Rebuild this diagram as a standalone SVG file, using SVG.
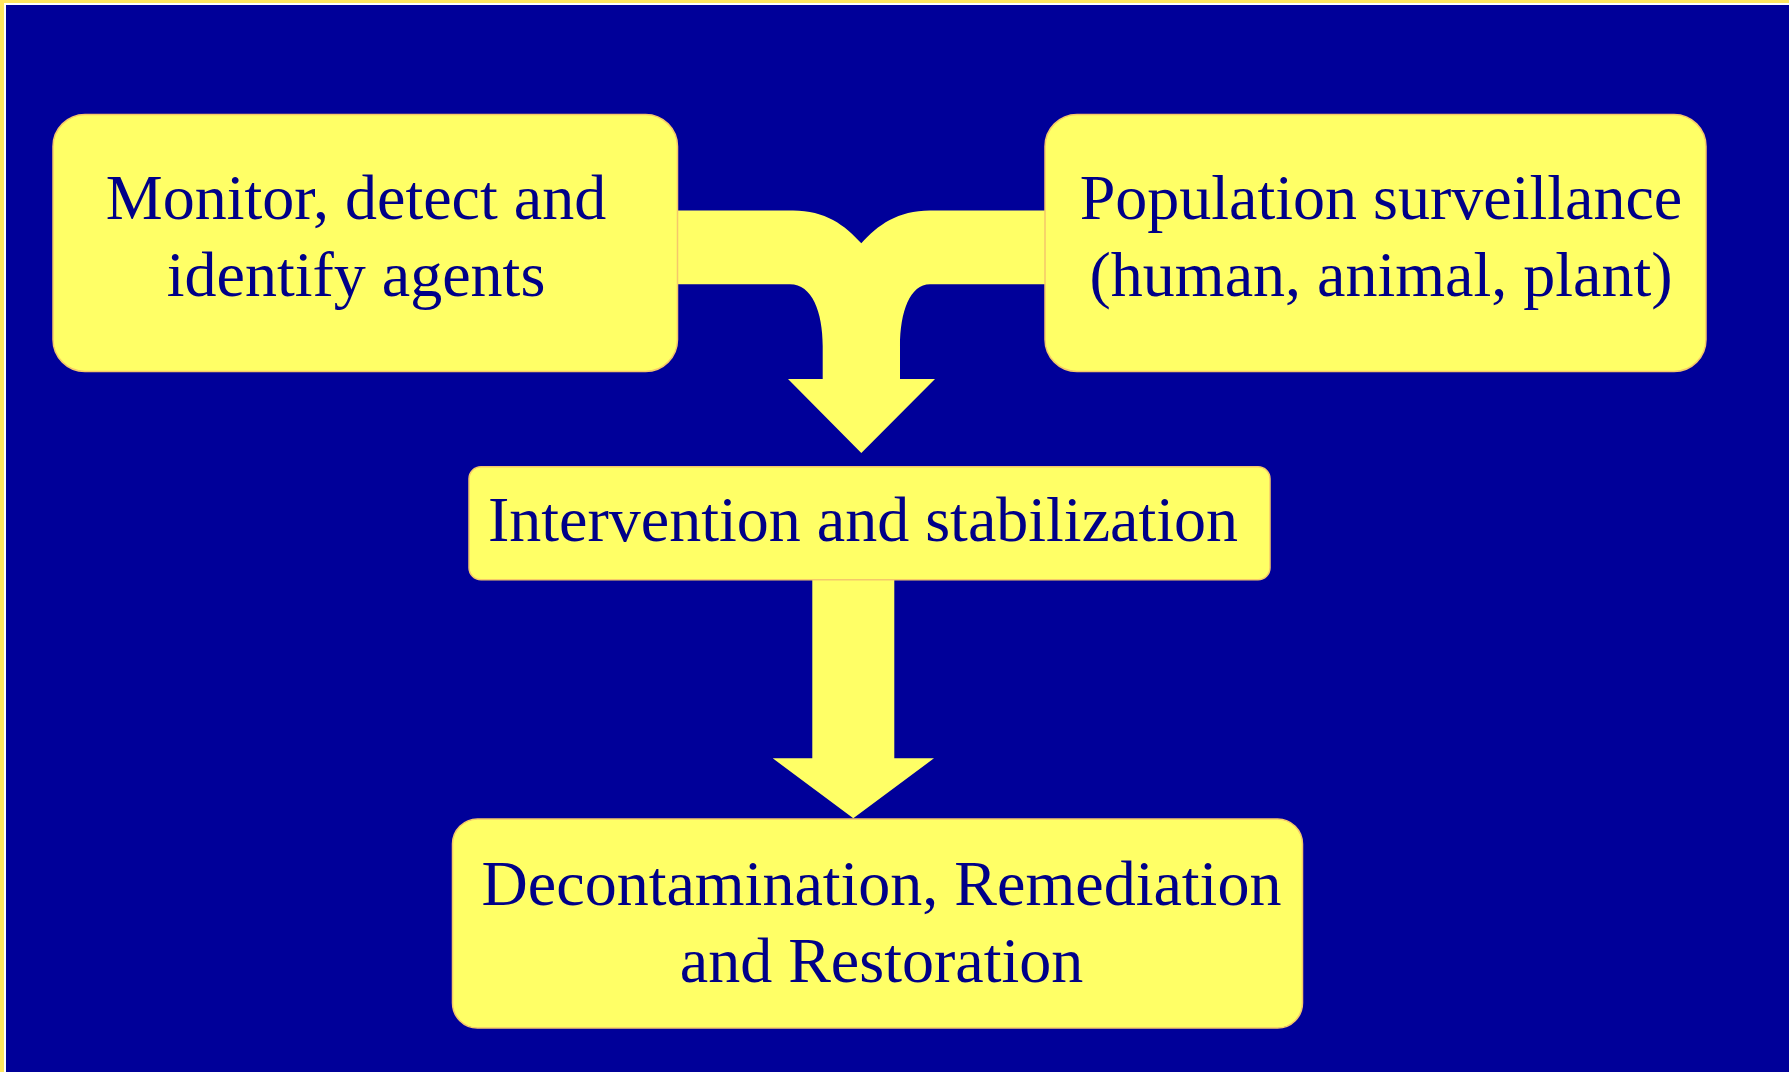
<svg xmlns="http://www.w3.org/2000/svg" width="1789" height="1072" viewBox="0 0 1789 1072">
<style>
.box{fill:#FFFF66;stroke:#F5C86A;stroke-width:1.5}
.arrow{fill:#FFFF66;stroke:none}
.t{font-family:"Liberation Serif","Times New Roman",serif;font-size:64px;fill:#000088;text-anchor:middle}
</style>
<rect x="0" y="0" width="1789" height="1072" fill="#FFE760"/>
<rect x="4" y="3" width="1785" height="1069" fill="#FFFFFF"/>
<rect x="6" y="5" width="1783" height="1067" fill="#000099"/>
<g id="connectors">
<path class="arrow" d="M 670,210.5 H 793 C 825,210.5 845,225 861.3,243.3 C 877.6,225 898,210.5 930,210.5 H 1050 V 284.3 H 930 C 910,284.3 900,312 900,346 V 379 H 935 L 861.3,453 L 788,379 H 822.7 V 346 C 822.7,312 812,284.3 790,284.3 H 670 Z"/>
<path class="arrow" d="M 812.3,575 H 894.3 V 758.3 H 934 L 853.3,818.3 L 772.7,758.3 H 812.3 Z"/>
</g>
<g id="node-monitor">
<rect class="box" x="53" y="114.5" width="624.5" height="257" rx="32"/>
<text class="t" x="356" y="219.3">Monitor, detect and</text>
<text class="t" x="356" y="296">identify agents</text>
</g>
<g id="node-population">
<rect class="box" x="1045" y="114.5" width="661" height="257" rx="32"/>
<text class="t" x="1381" y="219.3">Population surveillance</text>
<text class="t" x="1381" y="296">(human, animal, plant)</text>
</g>
<g id="node-intervention">
<rect class="box" x="469" y="466.7" width="801" height="113" rx="12"/>
<text class="t" x="863" y="540.5">Intervention and stabilization</text>
</g>
<g id="node-decontamination">
<rect class="box" x="452.5" y="819" width="850" height="209" rx="25"/>
<text class="t" x="881.5" y="905">Decontamination, Remediation</text>
<text class="t" x="881.5" y="981.5">and Restoration</text>
</g>
</svg>
